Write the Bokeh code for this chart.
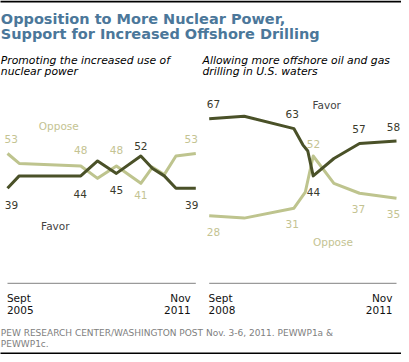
from bokeh.plotting import figure
from bokeh.models import Range1d
from bokeh.embed import file_html
from bokeh.resources import INLINE
from bokeh.core.properties import value

# ---------------- data ----------------
title_lines = ["Opposition to More Nuclear Power,", "Support for Increased Offshore Drilling"]
nuc_subtitle = ["Promoting the increased use of", "nuclear power"]
oil_subtitle = ["Allowing more offshore oil and gas", "drilling in U.S. waters"]

# months since Sept 2005
nuc_months = [0, 4.6, 28.8, 35.4, 42.8, 52.4, 57.0, 61.6, 66.2, 74]
nuc_favor = [39, 44, 44, 50, 45, 52, 47, 44, 39, 39]
nuc_oppose = [53, 49, 48, 43, 48, 41, 47.5, 44.5, 52, 53]
nuc_tick_top = ["Sept", "Nov"]
nuc_tick_bottom = ["2005", "2011"]

# months since Sept 2008
oil_favor_months = [0, 7.1, 17.2, 19.0, 20.0, 21.1, 25.3, 30.5, 38]
oil_favor = [67, 68, 63, 56.5, 54, 44, 51, 57, 58]
oil_oppose_months = [0, 7.1, 17.2, 19.5, 21.1, 25.3, 30.5, 38]
oil_oppose = [28, 27, 31, 37.5, 52, 41, 37, 35]
oil_tick_top = ["Sept", "Nov"]
oil_tick_bottom = ["2008", "2011"]

# which points carry a value label
nuc_favor_labeled = [0, 2, 4, 5, 9]
nuc_oppose_labeled = [0, 2, 4, 5, 9]
oil_favor_labeled = [0, 2, 5, 7, 8]
oil_oppose_labeled = [0, 2, 4, 6, 7]

source_lines = ["PEW RESEARCH CENTER/WASHINGTON POST Nov. 3-6, 2011. PEWWP1a &", "PEWWP1c."]

# ---------------- layout / style ----------------
W, H = 401, 354
X0, Y0 = 3.0, 3.9          # picture coords of the canvas' top-left corner
FONT = value("DejaVu Sans")
DARK = "#4a5128"
LIGHT = "#bec48e"
DARK_TXT = "#3a3a2c"
LIGHT_TXT = "#c4c392"
TITLE_C = "#4b779a"

# pixel anchors of the two time axes and of the shared value scale
NUC_PX = (10.0, 198.3)
OIL_PX = (211.7, 399.0)
Y_REF_VAL, Y_REF_PX, PX_PER_PT = 39, 191.7, 2.485


def xrange_for(months, px):
    a = (px[1] - px[0]) / (months[-1] - months[0])
    return Range1d(months[0] + (X0 - px[0]) / a, months[0] + (X0 + W - px[0]) / a)


y_rng = Range1d(Y_REF_VAL - (Y0 + H - Y_REF_PX) / PX_PER_PT,
                Y_REF_VAL + (Y_REF_PX - Y0) / PX_PER_PT)

p = figure(width=W, height=H, x_range=xrange_for(nuc_months, NUC_PX), y_range=y_rng,
           output_backend="svg", toolbar_location=None, min_border=0,
           x_axis_location=None, y_axis_location=None,
           outline_line_color=None, background_fill_color="white",
           border_fill_color="white")
p.xgrid.visible = False
p.ygrid.visible = False
p.extra_x_ranges = {"px": Range1d(X0, X0 + W), "oil": xrange_for(oil_favor_months, OIL_PX)}
p.extra_y_ranges = {"px": Range1d(Y0 + H, Y0)}


def ptext(x, y, txt, size, color, align="left", style="normal", baseline="alphabetic"):
    p.text(x=x, y=y, text=txt, text_font=FONT, text_font_size=size,
           text_color=color, text_align=align, text_baseline=baseline,
           text_font_style=style, x_range_name="px", y_range_name="px")


# rules
p.segment(x0=[0, 0], x1=[409, 409], y0=[5.0, 356.8], y1=[5.0, 356.8],
          line_color="black", line_width=2, x_range_name="px", y_range_name="px")

# title & subtitles
ptext([3.3, 3.3], [22.8, 37.8], title_lines, "14.5px", TITLE_C, style="bold")
ptext([3.3, 3.3], [64.2, 75.0], nuc_subtitle, "10.8px", "black", style="italic")
ptext([205.0, 205.0], [64.2, 75.0], oil_subtitle, "10.8px", "black", style="italic")

# baselines
p.segment(x0=[nuc_months[0]], x1=[nuc_months[-1]], y0=[286.8], y1=[286.8],
          line_color="#9a9a9a", line_width=1.3, y_range_name="px")
p.segment(x0=[oil_favor_months[0]], x1=[oil_favor_months[-1]], y0=[286.8], y1=[286.8],
          line_color="#9a9a9a", line_width=1.3, y_range_name="px", x_range_name="oil")

# tick labels
for months, top, bot, rname, rdx in ((nuc_months, nuc_tick_top, nuc_tick_bottom, "default", -5.0),
                                     (oil_favor_months, oil_tick_top, oil_tick_bottom, "oil", -4.0)):
    for i, align, dx in ((0, "left", -0.6), (-1, "right", rdx)):
        p.text(x=[months[i], months[i]], y=[301.0, 313.7], text=[top[i], bot[i]],
               x_offset=dx, text_font=FONT, text_font_size="10.5px", text_color="#111111",
               text_align=align, text_baseline="alphabetic",
               x_range_name=rname, y_range_name="px")

# lines (oppose first, favor on top)
p.line(nuc_months, nuc_oppose, line_color=LIGHT, line_width=3, line_join="round")
p.line(nuc_months, nuc_favor, line_color=DARK, line_width=3, line_join="round")
p.line(oil_oppose_months, oil_oppose, line_color=LIGHT, line_width=3, line_join="round",
       x_range_name="oil")
p.line(oil_favor_months, oil_favor, line_color=DARK, line_width=3, line_join="round",
       x_range_name="oil")


def value_labels(months, vals, idx, dxs, dys, color, rname):
    xs = [months[i] for i in idx]
    ys = [vals[i] for i in idx]
    p.text(x=xs, y=ys, text=[str(int(round(v))) for v in ys],
           x_offset=dxs, y_offset=dys, text_font=FONT, text_font_size="10.5px",
           text_color=color, text_align="center", text_baseline="middle",
           x_range_name=rname)


value_labels(nuc_months, nuc_favor, nuc_favor_labeled,
             [4, -0.6, 0, 0, -4], [16.6, 17.7, 16.2, -10.2, 16.6], DARK_TXT, "default")
value_labels(nuc_months, nuc_oppose, nuc_oppose_labeled,
             [3.7, 0, 0, 0, -4.6], [-14.7, -15.5, -15.5, 12, -14.7], LIGHT_TXT, "default")
value_labels(oil_favor_months, oil_favor, oil_favor_labeled,
             [4.3, -1.7, 0.3, -0.6, -3], [-15.1, -15.1, 16.2, -14.8, -14.5], DARK_TXT, "oil")
value_labels(oil_oppose_months, oil_oppose, oil_oppose_labeled,
             [4.3, -1.7, 0.3, -1.1, -3], [16.3, 15.9, -11.9, 15.8, 15.9], LIGHT_TXT, "oil")

# series names
ptext([61.3], [129.8], ["Oppose"], "10.5px", LIGHT_TXT, align="center")
ptext([57.8], [229.6], ["Favor"], "10.5px", "#444444", align="center")
ptext([329.2], [108.6], ["Favor"], "10.5px", "#444444", align="center")
ptext([335.5], [245.2], ["Oppose"], "10.5px", LIGHT_TXT, align="center")

# source
ptext([3.3, 3.3], [336.8, 347.6], source_lines, "9px", "#808080")

open("out.html", "w").write(file_html(p, INLINE))
